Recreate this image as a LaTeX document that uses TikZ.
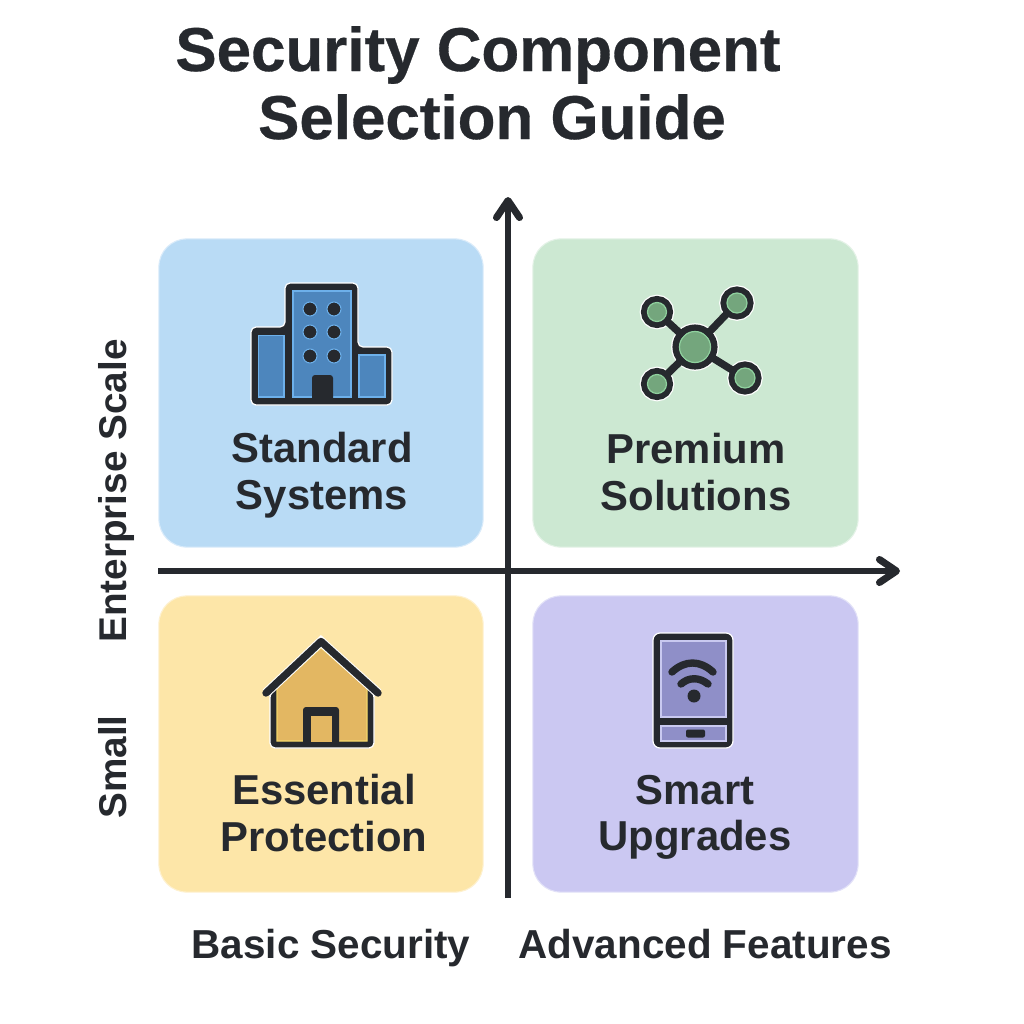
\documentclass[tikz,border=0pt]{standalone}
\usepackage{fontspec}
\setmainfont{Liberation Sans}
\newfontfamily\headfont[FakeBold=0.5]{Liberation Sans Bold}
\usepackage{xcolor}
\usetikzlibrary{arrows.meta,positioning,calc}
\definecolor{inkcolor}{RGB}{38, 41, 46}
\definecolor{bluepanel}{RGB}{185, 219, 245}
\definecolor{greenpanel}{RGB}{204, 232, 210}
\definecolor{yellowpanel}{RGB}{253, 230, 168}
\definecolor{purplepanel}{RGB}{203, 200, 242}
\definecolor{bluefill}{RGB}{77, 134, 189}
\definecolor{blueedge}{RGB}{109, 176, 234}
\definecolor{greenfill}{RGB}{116, 166, 125}
\definecolor{greenedge}{RGB}{143, 209, 158}
\definecolor{yellowfill}{RGB}{227, 183, 98}
\definecolor{yellowedge}{RGB}{245, 215, 106}
\definecolor{purplefill}{RGB}{143, 143, 200}
\definecolor{purpleedge}{RGB}{201, 201, 240}

\begin{document}
\begin{tikzpicture}[x=0.01cm,y=-0.01cm,
panel/.style={rounded corners=0.28cm,minimum height=3.08cm,minimum width=3.24cm,inner sep=0pt,draw=white!45!#1,fill=#1,line width=0.3pt},
quad/.style={align=center,font=\fontsize{11.9}{13.2}\selectfont\bfseries,text=inkcolor,inner sep=0pt},
axislabel/.style={font=\fontsize{11.5}{13}\selectfont\bfseries,text=inkcolor,inner sep=0pt,anchor=base},
sidelabel/.style={axislabel,font=\fontsize{11}{13}\selectfont\bfseries,rotate=90},
headline/.style={font=\fontsize{17.6}{20}\selectfont\headfont,text=inkcolor,inner sep=0pt,anchor=base},
axis/.style={-{Straight Barb[length=0.17cm,width=0.23cm,line width=2pt,round]},line width=1.5pt,draw=inkcolor},
shell/.style={draw=white,fill=inkcolor,line width=0.35pt,rounded corners=0.05cm},
pane/.style 2 args={fill=#1,draw=#2,line width=0.3pt},
hub/.style 2 args={circle,inner sep=0pt,minimum size=#1,fill=greenfill,draw=greenedge,line width=0.35pt,
  preaction={draw=white,line width=#2+0.7pt},preaction={draw=inkcolor,line width=#2}},
spoke/.style={draw=inkcolor,line width=2.1pt},
ridge/.style={draw=inkcolor,line width=2.1pt,line cap=round,line join=round}]
\useasboundingbox (0,0) rectangle (1024,1024);
\fill[white] (0,0) rectangle (1024,1024);

\node[headline](titletop) at (478,71){Security Component};
\node[headline](titlebot) at (492,139){Selection Guide};

\node[panel=bluepanel](standard) at (321,393){};
\node[panel=greenpanel,minimum width=3.25cm](premium) at (695.5,393){};
\node[panel=yellowpanel,minimum height=2.96cm](essential) at (321,744){};
\node[panel=purplepanel,minimum width=3.25cm,minimum height=2.96cm](smart) at (695.5,744){};

\coordinate (vfoot) at (508,898); \coordinate (vhead) at (508,197);
\coordinate (hfoot) at (158,571); \coordinate (hhead) at (900,571);
\draw[axis](vfoot)--(vhead); \draw[axis](hfoot)--(hhead);

% building
\draw[shell] (251,405)--(251,327)--(285,327)--(285,283)--(358,283)--(358,347)--(392,347)--(392,405)--cycle;
\draw[pane={bluefill}{blueedge}] (293,291) rectangle (351,397);
\draw[pane={bluefill}{blueedge}] (258.5,335.5) rectangle (284,397);
\draw[pane={bluefill}{blueedge}] (359,355) rectangle (385,397);
\foreach \wx in {310,334}{\foreach \wy in {309,332,356}{
\draw[fill=inkcolor,draw=blueedge,line width=0.3pt] (\wx,\wy) circle (0.07cm);}}
\fill[inkcolor,rounded corners=0.03cm] (312,402)--(312,375)--(333,375)--(333,402)--cycle;

% network
\node[hub={0.31cm}{4pt}](core) at (695,347){};
\node[hub={0.19cm}{3.7pt}](tl) at (657,312){};
\node[hub={0.2cm}{3.7pt}](tr) at (737,303){};
\node[hub={0.19cm}{3.7pt}](bl) at (657,384){};
\node[hub={0.2cm}{3.7pt}](br) at (745,378){};
\draw[spoke](core)--(tl); \draw[spoke](core)--(tr); \draw[spoke](core)--(bl); \draw[spoke](core)--(br);

% house
\draw[shell] (270,748)--(270,693)--(321,642)--(374,693)--(374,748)--cycle;
\draw[pane={yellowfill}{yellowedge}] (277,741)--(277,688)--(321,648)--(367,688)--(367,741)--cycle;
\draw[ridge,preaction={draw=white,line width=2.7pt}] (266,693)--(321,641.5)--(378,693);
\fill[inkcolor,rounded corners=0.03cm] (303,745)--(303,707)--(339,707)--(339,745)--cycle;
\draw[pane={yellowfill}{yellowfill}] (312,717) rectangle (331,741);

% phone
\draw[shell,rounded corners=0.07cm] (653,633) rectangle (733,748);
\draw[pane={purplefill}{purpleedge}] (661,641) rectangle (726,717);
\draw[pane={purplefill}{purpleedge}] (661,726) rectangle (726,741);
\fill[inkcolor,rounded corners=0.02cm] (686,729.5) rectangle (705,737.5);
\draw[ridge] (672,672) .. controls (685,660) and (700,660) .. (713,672);
\draw[ridge] (681,684) .. controls (689,677) and (699,677) .. (708,684);
\fill[inkcolor] (694,696) circle (0.065cm);

\node[quad](standardtext) at (322,475){Standard\\Systems};
\node[quad](premiumtext) at (696,472){Premium\\Solutions};
\node[quad](essentialtext) at (324,813){Essential\\Protection};
\node[quad](smarttext) at (695,817.5){Smart\\Upgrades};

\node[axislabel](basic) at (331,958){Basic Security};
\node[axislabel](advanced) at (705,958){Advanced Features};
\node[sidelabel](enterprise) at (126,491){Enterprise Scale};
\node[sidelabel](small) at (126,767){Small};
\end{tikzpicture}
\end{document}
